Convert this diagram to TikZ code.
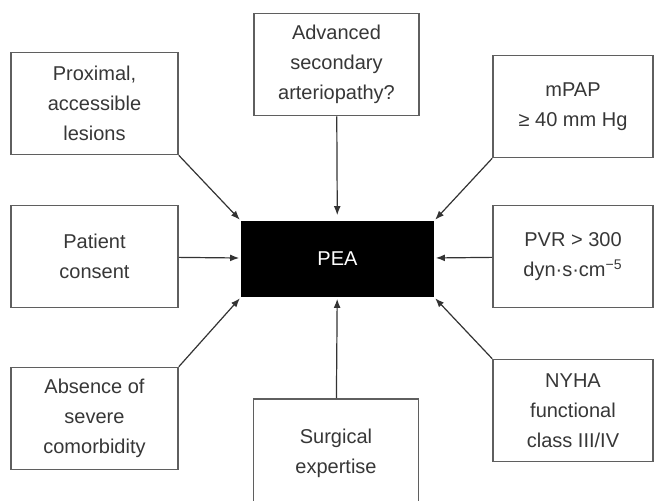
\documentclass[tikz,border=0pt]{standalone}
\usepackage{fontspec}
\setmainfont{Liberation Sans}
\usetikzlibrary{arrows.meta}
\definecolor{boxgray}{RGB}{95,95,95}
\definecolor{txtgray}{RGB}{55,55,55}

\begin{document}
\begin{tikzpicture}[
  x=0.5pt, y=-0.5pt,
  font=\fontsize{10}{15}\selectfont,
  >={Latex[length=4.5pt, width=3.4pt]},
  crit/.style={draw=boxgray, line width=0.8pt, align=center, fill=white,
               text=txtgray, inner sep=2pt, minimum height=51pt},
  sidebox/.style={crit, minimum width=83.5pt},
  rightbox/.style={crit, minimum width=80pt},
  midbox/.style={crit, minimum width=82.5pt},
  core/.style={draw=black, fill=black, text=white, line width=0.8pt,
               minimum width=95.5pt, minimum height=37pt},
  flow/.style={->, line width=0.6pt, draw=black!80, shorten >=1pt},
]
\useasboundingbox (0,0) rectangle (654,500);

% ---- centre ----
\node[core] (pea) at (337.5,259) {PEA};

% ---- criteria, left column ----
\node[sidebox] (prox) at (94.5,103.5) {Proximal,\\accessible\\lesions};
\node[sidebox] (consent) at (94.5,256.5) {Patient\\consent};
\node[sidebox] (comorb) at (94.5,418.5) {Absence of\\severe\\comorbidity};

% ---- criteria, middle column ----
\node[midbox] (arterio) at (336.5,64.5) {Advanced\\secondary\\arteriopathy?};
\node[midbox, minimum height=54pt] (surg) at (336,453) {Surgical\\expertise};

% ---- criteria, right column ----
\node[rightbox] (mpap) at (573,106.5) {mPAP\\≥ 40 mm Hg};
\node[rightbox] (pvr) at (573,256.5) {PVR > 300\\dyn·s·cm\textsuperscript{−5}};
\node[rightbox] (nyha) at (573,410.5) {NYHA\\functional\\class III/IV};

% ---- edges ----
\draw[flow] (prox.south east) -- (pea.north west);
\draw[flow] (consent) -- (pea);
\draw[flow] (comorb.north east) -- (pea.south west);
\draw[flow, shorten >=3pt] (arterio) -- (pea);
\draw[flow] (surg) -- (pea);
\draw[flow] (mpap.south west) -- (pea.north east);
\draw[flow] (pvr) -- (pea);
\draw[flow] (nyha.north west) -- (pea.south east);

\end{tikzpicture}
\end{document}
